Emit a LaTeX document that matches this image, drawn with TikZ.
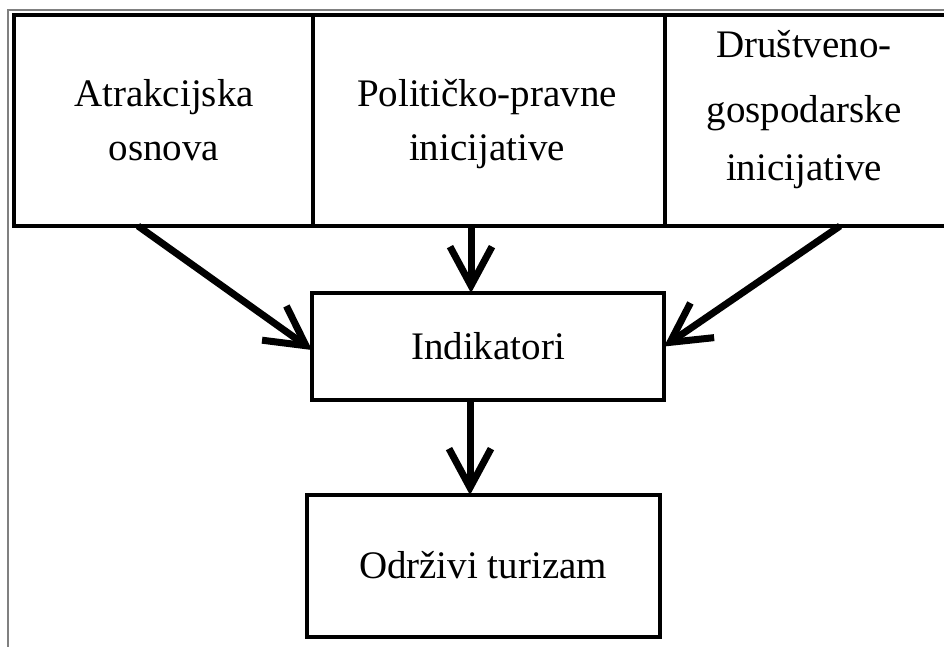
\documentclass[tikz,border=0pt]{standalone}
\usepackage{fontspec}
\setmainfont{Liberation Serif}
\usetikzlibrary{arrows.meta}
\begin{document}
\begin{tikzpicture}[x=1pt,y=-1pt,
 box/.style={draw, line width=4pt, inner sep=0pt, outer sep=0pt},
 lbl/.style={anchor=base, inner sep=0pt, font=\fontsize{39}{39}\selectfont},
 arr/.style={line width=7pt, -{Straight Barb[length=39pt,width=42pt]}}]
\useasboundingbox (0,0) rectangle (944,646);
\draw[gray, line width=1.5pt] (8,660) -- (8,10) -- (960,10);
% boxes
\node[box, minimum width=299pt, minimum height=211pt] (A) at (163.5,120.5) {};
\node[box, minimum width=352pt, minimum height=211pt] (B) at (489,120.5) {};
\node[box, minimum width=283pt, minimum height=211pt] (C) at (806.5,120.5) {};
\node[box, minimum width=352pt, minimum height=107pt] (I) at (488,346.5) {};
\node[box, minimum width=353pt, minimum height=142pt] (O) at (483.5,566) {};
% labels
\node[lbl] (tA1) at (164,106) {Atrakcijska};
\node[lbl] (tA2) at (164,160) {osnova};
\node[lbl] (tB1) at (487,106) {Političko-pravne};
\node[lbl] (tB2) at (487,160) {inicijative};
\node[lbl] (tC1) at (804,57) {Društveno-};
\node[lbl] (tC2) at (804,122) {gospodarske};
\node[lbl] (tC3) at (804,180) {inicijative};
\node[lbl] (tI) at (488,359) {Indikatori};
\node[lbl] (tO) at (483,578) {Održivi turizam};
% arrows
\draw[arr] ([xshift=124pt]A.south west) -- ([yshift=-3.5pt]I.west);
\draw[arr] ([xshift=175pt]C.south west) -- (I.east);
\draw[arr] ([xshift=-18pt]B.south) -- ([xshift=-17pt]I.north);
\draw[arr] ([xshift=-18pt]I.south) -- ([xshift=-13.5pt]O.north);
\end{tikzpicture}
\end{document}
